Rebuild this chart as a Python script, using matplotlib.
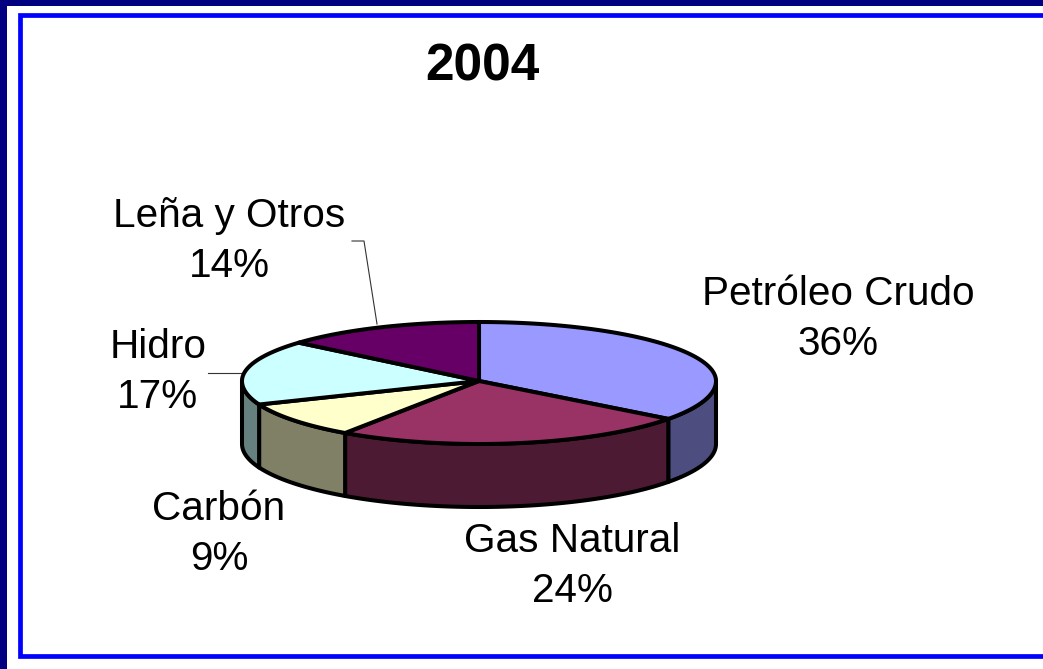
import numpy as np
import matplotlib
matplotlib.use('Agg')
import matplotlib.pyplot as plt
from matplotlib.patches import Polygon, Rectangle

# Data
labels = ['Petróleo Crudo', 'Gas Natural', 'Carbón', 'Hidro', 'Leña y Otros']
values = [36, 24, 9, 17, 14]
top_colors = ['#9999FF', '#993366', '#FFFFCC', '#CCFFFF', '#660066']
side_colors = ['#4D4D80', '#4D1A33', '#808066', '#668080', '#330033']
label_pos = [(838, 319), (572, 566), (219, 534), (158, 372), (229, 241)]
title = '2004'

# Pie geometry, in pixels
cx, cy = 479, 381
rx, ry_back, ry_front = 237, 59, 63
depth = 63

# Tilted view: true angle -> drawn angle (degrees clockwise from the top)
view_in = [0, 129.6, 216, 248.4, 309.6, 360]
view_out = [0, 127, 214.4, 248.1, 310.5, 360]

plt.rcParams['font.family'] = ['Liberation Sans', 'DejaVu Sans']

W, H = 1043, 669
fig = plt.figure(figsize=(W / 100, H / 100), dpi=100, facecolor='white')
ax = fig.add_axes([0, 0, 1, 1])
ax.set_xlim(0, W)
ax.set_ylim(H, 0)
ax.axis('off')

# Frame
ax.add_patch(Rectangle((0, 0), 7, H, fc='#000080', ec='none'))
ax.add_patch(Rectangle((0, 0), W, 6, fc='#000080', ec='none'))
ax.plot([W, 20, 20, W], [15, 15, 656, 656], color='#0000FF', lw=3.4,
        solid_joinstyle='miter', zorder=2)


def rim(a0, a1):
    t = np.radians(np.linspace(a0, a1, max(int(abs(a1 - a0) * 2), 2)))
    c = np.cos(t)
    return cx + rx * np.sin(t), cy - np.where(c > 0, ry_back, ry_front) * c


edges = np.interp(np.concatenate([[0], np.cumsum(values)]) * 3.6, view_in, view_out)

# Sides: only the front half (90..270) of the rim is visible
for i in range(len(values)):
    a0, a1 = max(edges[i], 90), min(edges[i + 1], 270)
    if a0 >= a1:
        continue
    x, y = rim(a0, a1)
    px = np.concatenate([x, x[::-1]])
    py = np.concatenate([y, y[::-1] + depth])
    ax.add_patch(Polygon(np.column_stack([px, py]), closed=True, fc=side_colors[i],
                         ec='black', lw=2.9, joinstyle='round', zorder=3))

# Top faces
for i in range(len(values)):
    x, y = rim(edges[i], edges[i + 1])
    px = np.concatenate([[cx], x])
    py = np.concatenate([[cy], y])
    ax.add_patch(Polygon(np.column_stack([px, py]), closed=True, fc=top_colors[i],
                         ec='black', lw=2.9, joinstyle='round', zorder=4))

# Leader lines
ax.plot([352, 364, 377], [241, 241, 324], color='#333333', lw=0.8, zorder=2)
ax.plot([208, 244], [373, 373], color='#333333', lw=0.8, zorder=2)

# Text
ax.text(482, 67, title, ha='center', va='center', fontsize=37, fontweight='bold', color='black')
for name, v, (lx, ly) in zip(labels, values, label_pos):
    ax.text(lx, ly, f'{name}\n{v}%', ha='center', va='center', fontsize=29.2,
            color='black', linespacing=1.42)

fig.savefig('out.png', dpi=100, facecolor='white')
